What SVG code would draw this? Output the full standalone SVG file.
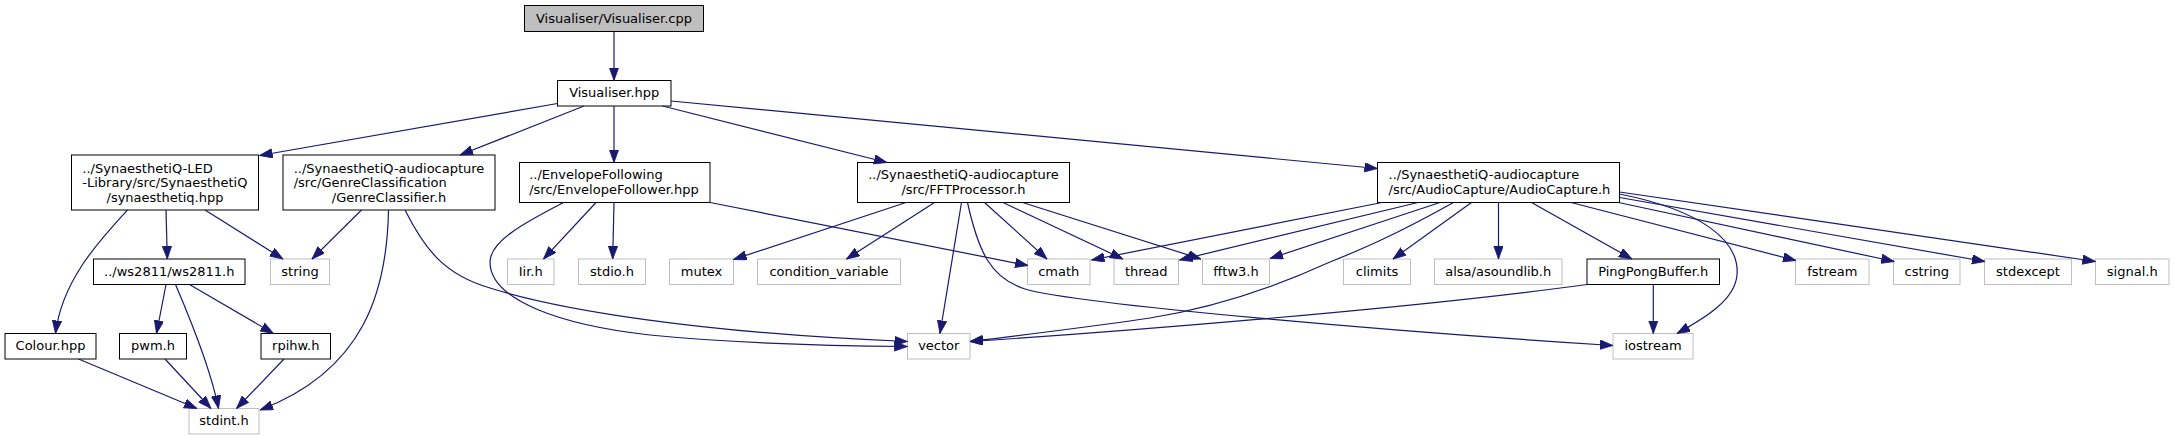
<svg xmlns="http://www.w3.org/2000/svg" width="2174" height="440" viewBox="0 0 2174 440">
<style>
rect.n{fill:#ffffff;stroke:#000000;stroke-width:1}
rect.x{fill:#ffffff;stroke:#bfbfbf;stroke-width:1}
rect.r{fill:#bfbfbf;stroke:#000000;stroke-width:1}
text{font-family:"DejaVu Sans","Liberation Sans",sans-serif;font-size:13px;fill:#000000}
text.c{text-anchor:middle}
text.l{text-anchor:start}
.e path{fill:none;stroke:#191970;stroke-width:1.2;marker-end:url(#ah)}
</style>
<defs>
<marker id="ah" markerUnits="userSpaceOnUse" markerWidth="14" markerHeight="10" refX="13" refY="4.7" orient="auto">
<path d="M0,0 L13,4.7 L0,9.4 Z" fill="#191970" stroke="#191970" stroke-width="0.8"/>
</marker>
</defs>
<rect width="2174" height="440" fill="#ffffff"/>

<g id="n_cpp"><rect class="r" x="524.5" y="5.5" width="179" height="26"/><text class="c" x="614" y="22.5">Visualiser/Visualiser.cpp</text></g>
<g id="n_hpp"><rect class="n" x="557.5" y="80.5" width="113.5" height="25.5"/><text class="c" x="614.25" y="97.3">Visualiser.hpp</text></g>
<g id="n_led"><rect class="n" x="71.5" y="155" width="187" height="55"/><text class="l" x="82.3" y="172.5">../SynaesthetiQ-LED</text><text class="l" x="82.3" y="187">-Library/src/SynaesthetiQ</text><text class="c" x="165" y="201.5">/synaesthetiq.hpp</text></g>
<g id="n_genre"><rect class="n" x="283" y="155" width="212" height="55"/><text class="l" x="293.7" y="172.5">../SynaesthetiQ-audiocapture</text><text class="l" x="293.7" y="187">/src/GenreClassification</text><text class="c" x="389" y="201.5">/GenreClassifier.h</text></g>
<g id="n_env"><rect class="n" x="519.5" y="162.5" width="190.5" height="40"/><text class="l" x="529.2" y="179.25">../EnvelopeFollowing</text><text class="l" x="529.2" y="193.75">/src/EnvelopeFollower.hpp</text></g>
<g id="n_fft"><rect class="n" x="857.5" y="162.5" width="212" height="40"/><text class="l" x="868.2" y="179.25">../SynaesthetiQ-audiocapture</text><text class="c" x="963.5" y="193.75">/src/FFTProcessor.h</text></g>
<g id="n_ac"><rect class="n" x="1377.5" y="162.5" width="242" height="40"/><text class="l" x="1388.5" y="179.25">../SynaesthetiQ-audiocapture</text><text class="l" x="1388.5" y="193.75">/src/AudioCapture/AudioCapture.h</text></g>
<g id="n_ws2811"><rect class="n" x="93.5" y="259" width="151.5" height="25.5"/><text class="c" x="169.25" y="275.75">../ws2811/ws2811.h</text></g>
<g id="n_string"><rect class="x" x="270.5" y="259" width="59" height="25.5"/><text class="c" x="300" y="275.75">string</text></g>
<g id="n_iir"><rect class="x" x="507.5" y="259" width="46.5" height="25.5"/><text class="c" x="530.75" y="275.75">Iir.h</text></g>
<g id="n_stdio"><rect class="x" x="578.5" y="259" width="67" height="25.5"/><text class="c" x="612" y="275.75">stdio.h</text></g>
<g id="n_mutex"><rect class="x" x="669.5" y="259" width="64" height="25.5"/><text class="c" x="701.5" y="275.75">mutex</text></g>
<g id="n_condvar"><rect class="x" x="757.5" y="259" width="143" height="25.5"/><text class="c" x="829" y="275.75">condition_variable</text></g>
<g id="n_cmath"><rect class="x" x="1027.5" y="259" width="62.5" height="25.5"/><text class="c" x="1058.75" y="275.75">cmath</text></g>
<g id="n_thread"><rect class="x" x="1114" y="259" width="64.5" height="25.5"/><text class="c" x="1146.25" y="275.75">thread</text></g>
<g id="n_fftw3"><rect class="x" x="1202.5" y="259" width="67" height="25.5"/><text class="c" x="1236" y="275.75">fftw3.h</text></g>
<g id="n_climits"><rect class="x" x="1343.5" y="259" width="67" height="25.5"/><text class="c" x="1377" y="275.75">climits</text></g>
<g id="n_alsa"><rect class="x" x="1434.5" y="259" width="127.5" height="25.5"/><text class="c" x="1498.25" y="275.75">alsa/asoundlib.h</text></g>
<g id="n_pingpong"><rect class="n" x="1587" y="259" width="132.5" height="25.5"/><text class="c" x="1653.25" y="275.75">PingPongBuffer.h</text></g>
<g id="n_fstream"><rect class="x" x="1795.5" y="259" width="73.5" height="25.5"/><text class="c" x="1832.25" y="275.75">fstream</text></g>
<g id="n_cstring"><rect class="x" x="1893.5" y="259" width="66.5" height="25.5"/><text class="c" x="1926.75" y="275.75">cstring</text></g>
<g id="n_stdexcept"><rect class="x" x="1984.5" y="259" width="87" height="25.5"/><text class="c" x="2028" y="275.75">stdexcept</text></g>
<g id="n_signal"><rect class="x" x="2095.5" y="259" width="73.5" height="25.5"/><text class="c" x="2132.25" y="275.75">signal.h</text></g>
<g id="n_colour"><rect class="n" x="5" y="333.5" width="91" height="25.5"/><text class="c" x="50.5" y="350.25">Colour.hpp</text></g>
<g id="n_pwm"><rect class="n" x="119.5" y="333.5" width="67" height="25.5"/><text class="c" x="153" y="350.25">pwm.h</text></g>
<g id="n_rpihw"><rect class="n" x="261" y="333.5" width="69.5" height="25.5"/><text class="c" x="295.75" y="350.25">rpihw.h</text></g>
<g id="n_vector"><rect class="x" x="907.5" y="333.5" width="62.5" height="25.5"/><text class="c" x="938.75" y="350.25">vector</text></g>
<g id="n_iostream"><rect class="x" x="1613" y="333.5" width="80" height="25.5"/><text class="c" x="1653" y="350.25">iostream</text></g>
<g id="n_stdint"><rect class="x" x="189" y="408.5" width="70" height="25.5"/><text class="c" x="224" y="425.25">stdint.h</text></g>

<g id="edges" class="e">
<path d="M614,31.5 L614,80.5"/>
<path d="M557.5,103.5 L259.5,155.5"/>
<path d="M584,106 L460,155"/>
<path d="M614,106 L614,162.5"/>
<path d="M662.5,106 L887,162.5"/>
<path d="M671,101 L1377.5,168.5"/>
<path d="M127.5,210 C100,240 62,280 55.5,333.5"/>
<path d="M166,210 L167.3,259"/>
<path d="M205,210 L283,259"/>
<path d="M361.5,210 L312,259"/>
<path d="M388.5,210 C387,290 365,370 260,410"/>
<path d="M405,210 C425,250 445,275 490,288 C560,310 700,333 907.5,341.5"/>
<path d="M166,284.5 L156.5,333.5"/>
<path d="M175.5,284.5 C195,330 212,375 218.5,408.5"/>
<path d="M189.5,284.5 L273.5,333.5"/>
<path d="M78.5,359 L197,408.5"/>
<path d="M165,359 L211,408.5"/>
<path d="M284,359 L236.5,408.5"/>
<path d="M563.5,202.5 C530,220 490,240 490,262 C490,300 560,325 650,335 C750,345 850,346 907.5,346.5"/>
<path d="M596,202.5 L543.5,259"/>
<path d="M614,202.5 L612.7,259"/>
<path d="M710,202.5 L1028,265.5"/>
<path d="M906,202.5 L733.5,259.5"/>
<path d="M934.5,202.5 L846.5,259"/>
<path d="M961.5,202.5 L940,333.5"/>
<path d="M984.5,202.5 L1047,259"/>
<path d="M1003,202.5 L1123,259"/>
<path d="M1022.5,202.5 L1201,259"/>
<path d="M967.5,202.5 C978,250 990,278 1025,289 C1080,305 1400,332 1613,345.5"/>
<path d="M1382,202.5 L1091.5,260"/>
<path d="M1418,202.5 L1179.5,260"/>
<path d="M1440,202.5 L1270,258.5"/>
<path d="M1453.5,202.5 C1390,238 1355,252 1330,262 C1295,278 1230,305 1150,318 C1090,327 1030,334 970,341.5"/>
<path d="M1471.5,202.5 L1393,259"/>
<path d="M1498.5,202.5 L1498.5,259"/>
<path d="M1531.5,202.5 L1632,259"/>
<path d="M1571,202.5 L1796,260.5"/>
<path d="M1618.5,202.5 L1894.3,261.5"/>
<path d="M1619.5,197.5 L1985,261.5"/>
<path d="M1619.5,192 L2095.5,261.5"/>
<path d="M1619.5,194 C1700,210 1740,240 1737,275 C1735,300 1705,318 1677,333.5"/>
<path d="M1587,284.5 C1400,310 1100,333 970,341.5"/>
<path d="M1653.3,284.5 L1653.3,333.5"/>
</g>
</svg>
